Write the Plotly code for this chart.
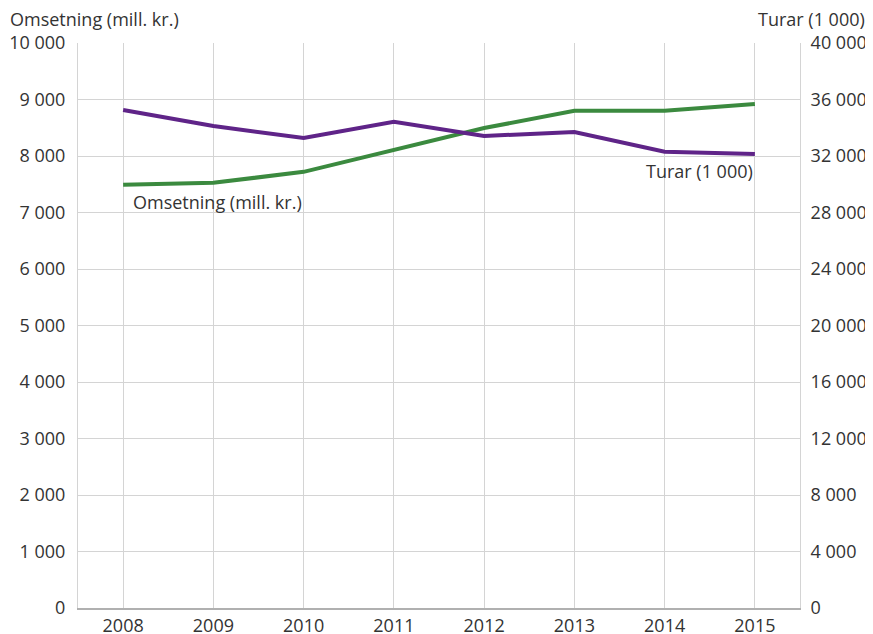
import plotly.graph_objects as go

years = [2008, 2009, 2010, 2011, 2012, 2013, 2014, 2015]
omsetning = [7490, 7525, 7720, 8105, 8495, 8800, 8800, 8920]
turar = [35250, 34120, 33280, 34420, 33420, 33700, 32300, 32150]

green = "#3b8a3f"
purple = "#5f2488"
grid = "#d4d4d4"
txt = "#333333"
font_family = "Open Sans, sans-serif"

fig = go.Figure()
fig.add_trace(go.Scatter(x=years, y=omsetning, mode="lines", name="Omsetning (mill. kr.)",
                         line=dict(color=green, width=4), yaxis="y"))
fig.add_trace(go.Scatter(x=years, y=turar, mode="lines", name="Turar (1 000)",
                         line=dict(color=purple, width=4), yaxis="y2"))

# page body has an 8px margin, so the figure is a bit smaller than the window
fig.update_layout(
    width=865, height=626,
    margin=dict(l=70, r=73, t=35, b=26),
    paper_bgcolor="white", plot_bgcolor="white",
    showlegend=False,
    separators=", ",
    font=dict(family=font_family, size=18, color=txt),
    xaxis=dict(range=[2007.5, 2015.5], tickvals=years, showgrid=True, gridcolor=grid,
               gridwidth=1, showline=True, linecolor="#b0b0b0", linewidth=2,
               ticks="", zeroline=False, automargin=False, ticklabelstandoff=0,
               tickfont=dict(size=18, color=txt)),
    yaxis=dict(range=[0, 10000], dtick=1000, tickformat=",d", showgrid=True,
               gridcolor=grid, zeroline=False, showline=True, linecolor=grid,
               ticks="", automargin=False, ticklabelstandoff=8,
               tickfont=dict(size=18, color=txt)),
    yaxis2=dict(range=[0, 40000], dtick=4000, tickformat=",d", overlaying="y",
                side="right", showgrid=False, zeroline=False, showline=True,
                linecolor=grid, ticks="", automargin=False, ticklabelstandoff=6,
                tickfont=dict(size=18, color=txt)),
)

fig.add_annotation(x=0, y=1, xref="paper", yref="paper", xshift=-70, yshift=24,
                   text="Omsetning (mill. kr.)", showarrow=False, xanchor="left",
                   yanchor="middle", font=dict(size=18, color=txt))
fig.add_annotation(x=1, y=1, xref="paper", yref="paper", xshift=67, yshift=24,
                   text="Turar (1 000)", showarrow=False, xanchor="right",
                   yanchor="middle", font=dict(size=18, color=txt))
fig.add_annotation(x=years[0], y=omsetning[0], xref="x", yref="y", xshift=8, yshift=-17,
                   text="Omsetning (mill. kr.)", showarrow=False, xanchor="left",
                   yanchor="middle", font=dict(size=18, color=txt))
fig.add_annotation(x=years[-1], y=turar[-1], xref="x", yref="y2", xshift=0, yshift=-17,
                   text="Turar (1 000)", showarrow=False, xanchor="right",
                   yanchor="middle", font=dict(size=18, color=txt))

fig.write_html("out.html")
